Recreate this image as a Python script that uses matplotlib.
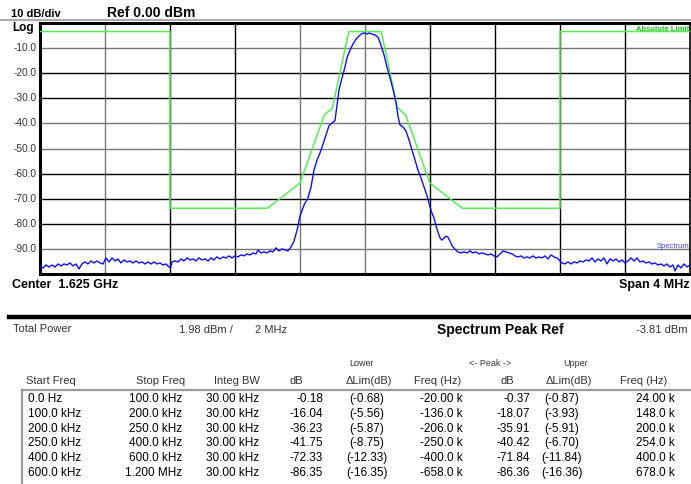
import matplotlib
matplotlib.use("Agg")
import matplotlib.pyplot as plt
from matplotlib.lines import Line2D

plt.rcParams['font.family'] = ['Liberation Sans', 'DejaVu Sans']

# frequency offset from centre (MHz) and level (dBm)
spec_f = [-2.000, -1.982, -1.963, -1.945, -1.926, -1.908, -1.889, -1.871, -1.852, -1.834,
          -1.815, -1.797, -1.778, -1.760, -1.742, -1.723, -1.705, -1.686, -1.668, -1.649,
          -1.631, -1.612, -1.594, -1.575, -1.557, -1.538, -1.520, -1.502, -1.483, -1.465,
          -1.446, -1.428, -1.409, -1.391, -1.372, -1.354, -1.335, -1.317, -1.298, -1.280,
          -1.262, -1.243, -1.225, -1.206, -1.197, -1.188, -1.169, -1.151, -1.132, -1.114,
          -1.095, -1.077, -1.058, -1.040, -1.022, -1.003, -0.985, -0.966, -0.948, -0.929,
          -0.911, -0.892, -0.874, -0.855, -0.837, -0.818, -0.800, -0.782, -0.763, -0.745,
          -0.726, -0.708, -0.689, -0.671, -0.658, -0.640, -0.622, -0.603, -0.585, -0.566,
          -0.548, -0.529, -0.511, -0.492, -0.474, -0.455, -0.437, -0.418, -0.400, -0.375,
          -0.351, -0.332, -0.314, -0.295, -0.277, -0.258, -0.240, -0.222, -0.203, -0.185,
          -0.172, -0.160, -0.148, -0.135, -0.123, -0.111, -0.092, -0.074, -0.055, -0.037,
          -0.018, 0.000, 0.012, 0.025, 0.043, 0.062, 0.080, 0.098, 0.117, 0.135,
          0.154, 0.172, 0.191, 0.203, 0.215, 0.234, 0.252, 0.271, 0.289, 0.308,
          0.326, 0.345, 0.363, 0.382, 0.400, 0.412, 0.425, 0.437, 0.449, 0.462,
          0.474, 0.486, 0.498, 0.511, 0.523, 0.535, 0.554, 0.572, 0.591, 0.609,
          0.628, 0.646, 0.665, 0.683, 0.702, 0.720, 0.738, 0.757, 0.775, 0.794,
          0.812, 0.831, 0.849, 0.868, 0.886, 0.905, 0.923, 0.942, 0.960, 0.978,
          0.997, 1.015, 1.034, 1.052, 1.071, 1.089, 1.108, 1.126, 1.145, 1.163,
          1.182, 1.200, 1.212, 1.231, 1.249, 1.268, 1.286, 1.305, 1.323, 1.342,
          1.360, 1.378, 1.397, 1.415, 1.434, 1.452, 1.471, 1.489, 1.508, 1.526,
          1.545, 1.563, 1.582, 1.600, 1.618, 1.637, 1.655, 1.674, 1.692, 1.711,
          1.729, 1.748, 1.766, 1.785, 1.803, 1.822, 1.840, 1.858, 1.877, 1.895,
          1.908, 1.926, 1.945, 1.963, 1.982, 2.000]
spec_db = [-96.8, -97.6, -96.4, -97.2, -96.4, -97.2, -96.0, -96.8, -96.0, -96.4,
           -95.6, -96.8, -96.0, -98.0, -96.0, -95.2, -96.0, -94.8, -95.6, -94.8,
           -95.6, -96.0, -93.6, -95.2, -93.6, -94.8, -94.0, -95.6, -94.4, -95.2,
           -94.8, -95.6, -94.8, -95.6, -95.2, -96.0, -95.2, -96.0, -95.2, -96.0,
           -95.6, -96.4, -96.0, -97.2, -97.6, -95.2, -94.8, -95.2, -94.0, -94.8,
           -93.6, -94.4, -94.0, -94.8, -93.6, -94.4, -94.0, -94.8, -93.6, -94.4,
           -93.2, -94.0, -93.2, -93.6, -92.8, -93.6, -92.8, -93.2, -92.4, -92.8,
           -92.0, -92.4, -91.6, -92.0, -90.4, -91.6, -91.2, -91.6, -90.8, -91.2,
           -89.6, -90.8, -90.0, -90.4, -90.8, -89.2, -86.9, -82.5, -76.9, -72.5,
           -69.7, -65.3, -58.6, -54.6, -51.8, -48.2, -44.6, -41.0, -39.8, -39.0,
           -32.7, -26.7, -23.5, -20.3, -17.5, -13.9, -10.8, -8.4, -6.4, -5.2,
           -4.2, -4.0, -4.4, -4.0, -4.4, -4.8, -5.6, -8.8, -12.7, -17.5,
           -21.9, -26.3, -31.9, -37.1, -40.6, -41.4, -43.0, -46.6, -50.6, -54.6,
           -58.6, -61.8, -65.3, -68.9, -73.3, -75.7, -77.7, -80.9, -83.3, -85.7,
           -86.5, -85.7, -84.9, -85.3, -86.9, -88.6, -90.2, -91.2, -91.6, -91.2,
           -91.6, -90.8, -91.6, -91.2, -92.0, -91.6, -92.0, -92.4, -92.0, -92.8,
           -93.2, -92.0, -90.8, -91.2, -91.6, -92.0, -92.8, -93.2, -92.8, -93.6,
           -93.2, -93.6, -92.8, -93.6, -93.2, -93.6, -92.8, -94.0, -92.4, -93.2,
           -93.6, -94.8, -95.6, -96.0, -95.2, -96.0, -95.2, -95.6, -94.8, -95.2,
           -94.4, -94.8, -93.6, -95.2, -94.0, -94.8, -93.6, -96.0, -94.0, -94.8,
           -94.0, -95.2, -94.4, -95.6, -94.8, -93.6, -94.8, -93.6, -95.2, -94.8,
           -95.6, -95.2, -96.0, -95.6, -96.4, -96.0, -96.8, -96.0, -97.2, -96.4,
           -98.8, -96.4, -97.6, -96.0, -97.2, -96.4]

# absolute limit mask
mask_f = [-2.0, -1.2, -1.2, -0.6, -0.4, -0.25, -0.2, -0.1, 0.1, 0.2, 0.25, 0.4, 0.6, 1.2, 1.2, 2.0]
mask_db = [-3.4, -3.4, -73.8, -73.8, -63.8, -36.6, -33.8, -3.4, -3.4, -33.8, -36.6, -63.8, -73.8, -73.8, -3.4, -3.4]

y_ticks = [-10, -20, -30, -40, -50, -60, -70, -80, -90]

# results table
start_freq = ['0.0 Hz', '100.0 kHz', '200.0 kHz', '250.0 kHz', '400.0 kHz', '600.0 kHz']
stop_freq = ['100.0 kHz', '200.0 kHz', '250.0 kHz', '400.0 kHz', '600.0 kHz', '1.200 MHz']
integ_bw = ['30.00 kHz'] * 6
lower_db = ['-0.18', '-16.04', '-36.23', '-41.75', '-72.33', '-86.35']
lower_lim = ['(-0.68)', '(-5.56)', '(-5.87)', '(-8.75)', '(-12.33)', '(-16.35)']
lower_freq = ['-20.00 k', '-136.0 k', '-206.0 k', '-250.0 k', '-400.0 k', '-658.0 k']
upper_db = ['-0.37', '-18.07', '-35.91', '-40.42', '-71.84', '-86.36']
upper_lim = ['(-0.87)', '(-3.93)', '(-5.91)', '(-6.70)', '(-11.84)', '(-16.36)']
upper_freq = ['24.00 k', '148.0 k', '200.0 k', '254.0 k', '400.0 k', '678.0 k']

W, H = 691, 484
fig = plt.figure(figsize=(W / 100, H / 100), dpi=100)


def P(x, y):
    return x / W, 1 - y / H


ax = fig.add_axes([40 / W, 1 - 274 / H, 650 / W, 251 / H])
ax.set_xlim(-2, 2)
ax.set_ylim(-100, 0)
ax.set_xticks([])
ax.set_yticks([])
for i in range(1, 10):
    x = -2 + i * 0.4
    c = '#777777' if i in (1, 4, 5) else 'black'
    ax.axvline(x, color=c, lw=1.0, zorder=1)
    y = -i * 10
    c = '#777777' if i in (1, 4, 5, 9) else 'black'
    ax.axhline(y, color=c, lw=1.0, zorder=1)
for s in ax.spines.values():
    s.set_linewidth(2.2)
ax.spines['right'].set_linewidth(1.2)

ax.plot(mask_f, mask_db, color='#55ee55', lw=1.1, zorder=3)
ax.plot(spec_f, spec_db, color='#1010ee', lw=1.0, zorder=4)

ax.text(1.995, -1.0, 'Absolute Limit', color='#22bb22', fontsize=5.5, fontweight='bold',
        ha='right', va='top', zorder=5)
ax.text(1.995, -90.5, 'Spectrum', color='#4444ee', fontsize=5.5, ha='right', va='bottom', zorder=5)

for v in y_ticks:
    fig.text(*P(37, 23 - v * 2.51), '%.1f' % v, ha='right', va='center', fontsize=7.3, color='#333333')

fig.text(*P(12, 28), 'Log', ha='left', va='center', fontsize=8.5, fontweight='bold')
fig.text(*P(11, 14), '10 dB/div', ha='left', va='center', fontsize=8, fontweight='bold')
fig.text(*P(107, 13), 'Ref 0.00 dBm', ha='left', va='center', fontsize=10, fontweight='bold')
fig.add_artist(Line2D([0, 1], [1 - 19.5 / H] * 2, color='#999999', lw=1.2, zorder=0))

fig.text(*P(12, 285), 'Center  1.625 GHz', ha='left', va='center', fontsize=9, fontweight='bold')
fig.text(*P(690, 285), 'Span 4 MHz', ha='right', va='center', fontsize=9, fontweight='bold')

fig.add_artist(Line2D([9 / W, 1], [1 - 317 / H] * 2, color='black', lw=3.2))

hdr = '#333333'
fig.text(*P(13, 329), 'Total Power', ha='left', va='center', fontsize=8, color=hdr)
fig.text(*P(233, 330), '1.98 dBm /', ha='right', va='center', fontsize=8, color=hdr)
fig.text(*P(287, 330), '2 MHz', ha='right', va='center', fontsize=8, color=hdr)
fig.text(*P(437, 330), 'Spectrum Peak Ref', ha='left', va='center', fontsize=10, fontweight='bold')
fig.text(*P(688, 330), '-3.81 dBm', ha='right', va='center', fontsize=8, color=hdr)

fig.text(*P(362, 364), 'Lower', ha='center', va='center', fontsize=6.5, color=hdr)
fig.text(*P(490, 364), '<- Peak ->', ha='center', va='center', fontsize=6.5, color=hdr)
fig.text(*P(576, 364), 'Upper', ha='center', va='center', fontsize=6.5, color=hdr)

hy = 381
fig.text(*P(26, hy), 'Start Freq', ha='left', va='center', fontsize=8, color=hdr)
fig.text(*P(185, hy), 'Stop Freq', ha='right', va='center', fontsize=8, color=hdr)
fig.text(*P(260, hy), 'Integ BW', ha='right', va='center', fontsize=8, color=hdr)
fig.text(*P(303, hy), 'dB', ha='right', va='center', fontsize=8, color=hdr)
fig.text(*P(369, hy), '\u0394Lim(dB)', ha='center', va='center', fontsize=8, color=hdr)
fig.text(*P(461, hy), 'Freq (Hz)', ha='right', va='center', fontsize=8, color=hdr)
fig.text(*P(514, hy), 'dB', ha='right', va='center', fontsize=8, color=hdr)
fig.text(*P(569, hy), '\u0394Lim(dB)', ha='center', va='center', fontsize=8, color=hdr)
fig.text(*P(667, hy), 'Freq (Hz)', ha='right', va='center', fontsize=8, color=hdr)

fig.add_artist(Line2D([22 / W, 1], [1 - 390 / H] * 2, color='#999999', lw=1.6))
fig.add_artist(Line2D([22 / W] * 2, [1 - 390 / H, 0], color='#999999', lw=1.6))

for r in range(6):
    y = 399 + r * 14.8
    kw = dict(va='center', fontsize=8.5, color='black')
    fig.text(*P(28, y), start_freq[r], ha='left', **kw)
    fig.text(*P(182, y), stop_freq[r], ha='right', **kw)
    fig.text(*P(259, y), integ_bw[r], ha='right', **kw)
    fig.text(*P(323, y), lower_db[r], ha='right', **kw)
    fig.text(*P(367, y), lower_lim[r], ha='center', **kw)
    fig.text(*P(463, y), lower_freq[r], ha='right', **kw)
    fig.text(*P(530, y), upper_db[r], ha='right', **kw)
    fig.text(*P(562, y), upper_lim[r], ha='center', **kw)
    fig.text(*P(675, y), upper_freq[r], ha='right', **kw)

fig.savefig('out.png', dpi=100)
